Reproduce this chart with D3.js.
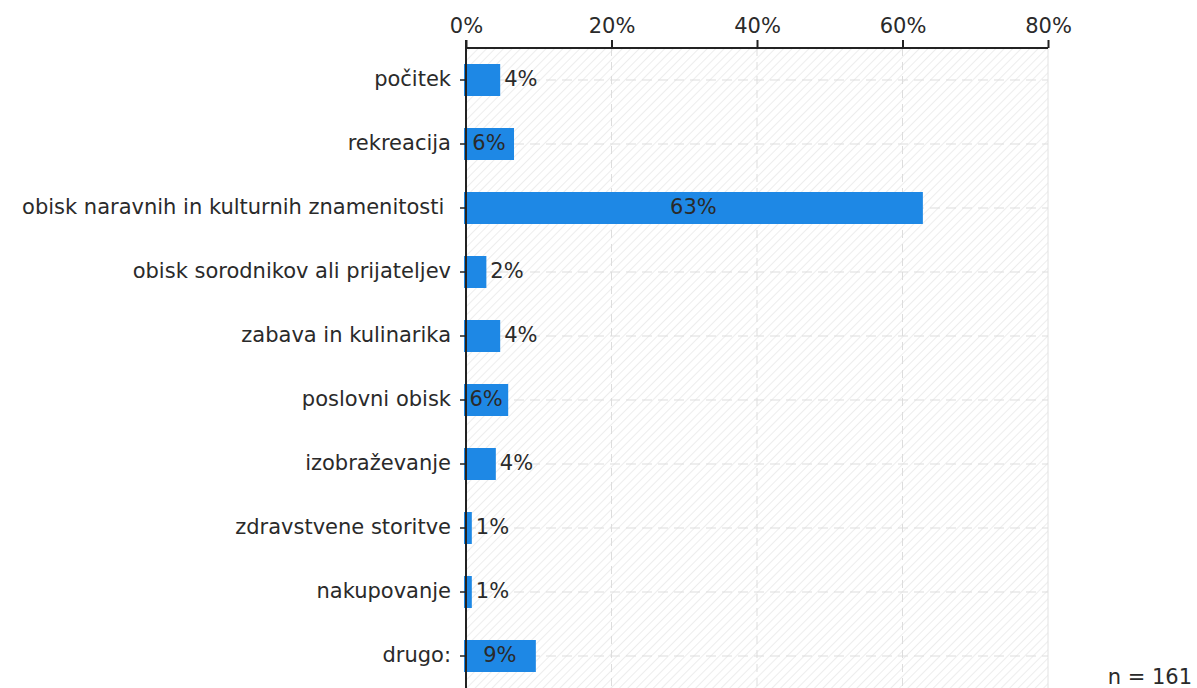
<!DOCTYPE html>
<html>
<head>
<meta charset="utf-8">
<script src="https://cdn.jsdelivr.net/npm/d3@7"></script>
<style>
  body { margin: 0; background: #fff; }
  svg text { font-family: "DejaVu Sans", Verdana, sans-serif; fill: #2a2a2a; white-space: pre; }
</style>
</head>
<body>
<svg id="chart" width="1197" height="688"></svg>
<script>
// data
const categories = ['počitek', 'rekreacija', 'obisk naravnih in kulturnih znamenitosti ', 'obisk sorodnikov ali prijateljev',
  'zabava in kulinarika', 'poslovni obisk', 'izobraževanje', 'zdravstvene storitve', 'nakupovanje', 'drugo:'];
const values = [4.7, 6.6, 62.8, 2.8, 4.7, 5.8, 4.1, 0.8, 0.8, 9.6];
const valueLabels = ['4%', '6%', '63%', '2%', '4%', '6%', '4%', '1%', '1%', '9%'];
const xTicks = [0, 20, 40, 60, 80];
const nLabel = 'n = 161';

const svg = d3.select('#chart');
const margin = { top: 48, left: 466, right: 149 };
const width = 1197, height = 688;
const fontSize = 21;

const x = d3.scaleLinear().domain([0, 80]).range([margin.left, width - margin.right]);
const y = d3.scaleBand().domain(categories).range([margin.top, height]).paddingInner(0.5).paddingOuter(0.25);

// hatched background
const defs = svg.append('defs');
const pat = defs.append('pattern').attr('id', 'hatch').attr('patternUnits', 'userSpaceOnUse')
  .attr('width', 6).attr('height', 6).attr('patternTransform', 'rotate(45)');
pat.append('rect').attr('width', 6).attr('height', 6).attr('fill', '#fff');
pat.append('line').attr('x1', 0).attr('y1', 0).attr('x2', 0).attr('y2', 6)
  .attr('stroke', '#e8e8e8').attr('stroke-width', 1.5);

svg.append('rect').attr('x', x(0)).attr('y', margin.top)
  .attr('width', x(80) - x(0)).attr('height', height - margin.top)
  .attr('fill', 'url(#hatch)');

// grid
svg.append('g').selectAll('line').data(xTicks.slice(1, -1)).enter().append('line')
  .attr('x1', d => x(d)).attr('x2', d => x(d))
  .attr('y1', margin.top).attr('y2', height)
  .attr('stroke', '#ddd').attr('stroke-dasharray', '8,6');
svg.append('line').attr('x1', x(80)).attr('x2', x(80)).attr('y1', margin.top).attr('y2', height)
  .attr('stroke', '#e2e2e2');
svg.append('g').selectAll('line').data(categories).enter().append('line')
  .attr('x1', x(0)).attr('x2', x(80))
  .attr('y1', d => y(d) + y.bandwidth() / 2).attr('y2', d => y(d) + y.bandwidth() / 2)
  .attr('stroke', '#ddd').attr('stroke-dasharray', '10,6');

// bars
svg.append('g').selectAll('rect').data(values).enter().append('rect')
  .attr('x', x(0) - 2)
  .attr('y', (d, i) => y(categories[i]))
  .attr('width', d => x(d) - x(0) + 2)
  .attr('height', y.bandwidth())
  .attr('fill', '#1e88e5');

// value labels: centred in the bar when they fit, else just after it
svg.append('g').selectAll('text').data(values).enter().append('text')
  .each(function (d, i) {
    const t = d3.select(this).text(valueLabels[i])
      .attr('y', y(categories[i]) + y.bandwidth() / 2)
      .attr('dy', '0.3em')
      .style('font-size', fontSize + 'px');
    const w = this.getComputedTextLength();
    const barW = x(d) - x(0) + 2;
    if (barW > w + 6) {
      t.attr('x', (x(0) - 2 + x(d)) / 2).attr('text-anchor', 'middle');
    } else {
      t.attr('x', x(d) + 4).attr('text-anchor', 'start');
    }
  });

// axes
const xAxis = svg.append('g').attr('transform', `translate(0,${margin.top})`)
  .call(d3.axisTop(x).tickValues(xTicks).tickFormat(d => d + '%').tickSize(8).tickPadding(7));
xAxis.select('.domain').attr('stroke', '#222').attr('stroke-width', 2).attr('d', `M${x(0)},0H${x(80)}`);
xAxis.selectAll('.tick line').attr('stroke', '#222').attr('stroke-width', 2);
xAxis.selectAll('text').style('font-size', fontSize + 'px').attr('fill', '#2a2a2a');

const yAxis = svg.append('g').attr('transform', `translate(${x(0)},0)`)
  .call(d3.axisLeft(y).tickSize(6).tickPadding(9));
yAxis.select('.domain').attr('stroke', '#222').attr('stroke-width', 2).attr('d', `M0,${margin.top - 8}V${height}`);
yAxis.selectAll('.tick line').attr('stroke', '#222').attr('stroke-width', 1.5);
yAxis.selectAll('text').style('font-size', fontSize + 'px').attr('fill', '#2a2a2a').attr('dy', '0.3em');

svg.append('text').attr('x', 1192).attr('y', 684).attr('text-anchor', 'end')
  .style('font-size', fontSize + 'px').text(nLabel);
</script>
</body>
</html>
